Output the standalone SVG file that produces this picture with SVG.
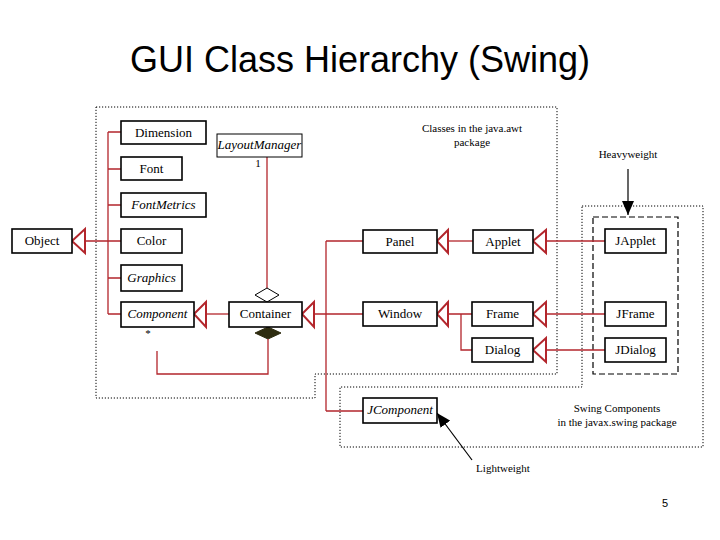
<svg xmlns="http://www.w3.org/2000/svg" width="720" height="540" viewBox="0 0 720 540">
<style>
.title{font-family:"Liberation Sans",Arial,sans-serif;font-size:36px;fill:#000}
.t{font-family:"Liberation Serif","Times New Roman",serif;font-size:13px;fill:#000;text-anchor:middle}
.i{font-style:italic}
.note{font-family:"Liberation Serif","Times New Roman",serif;font-size:11px;fill:#000;text-anchor:middle}
.box{fill:#fff;stroke:#000;stroke-width:1.6}
.thin{fill:#fff;stroke:#000;stroke-width:1}
.pkg{fill:none;stroke:#000;stroke-width:1;stroke-dasharray:1.2 1.8}
.dash{fill:none;stroke:#000;stroke-width:1.2;stroke-dasharray:6 3}
.r{fill:none;stroke:#b3262c;stroke-width:1.3}
.tri{fill:#fff;stroke:#b3262c;stroke-width:2}
.arr{fill:none;stroke:#000;stroke-width:1.2}
</style>
<defs>
<marker id="ah" viewBox="0 0 14 12" refX="14" refY="6" markerWidth="14" markerHeight="12" markerUnits="userSpaceOnUse" orient="auto">
<path d="M0,0 L14,6 L0,12z" fill="#000"/>
</marker>
</defs>
<rect width="720" height="540" fill="#fff"/>
<text class="title" x="360" y="72" text-anchor="middle">GUI Class Hierarchy (Swing)</text>

<g id="packages">
<path class="pkg" d="M96,107 H557 V374 H315 V398 H96 Z"/>
<path class="pkg" d="M582,206 H703 V447 H340 V387 H582 Z"/>
<rect class="dash" x="593" y="217" width="85" height="157"/>
<text class="note" x="472" y="132">Classes in the java.awt</text>
<text class="note" x="472" y="146">package</text>
<text class="note" x="617" y="412">Swing Components</text>
<text class="note" x="617" y="426">in the javax.swing package</text>
</g>

<g id="connectors">
<path class="r" d="M108,132 V314 M108,132 H121 M108,169 H121 M108,205 H121 M85,241 H121 M108,278 H121 M108,314 H121"/>
<polygon class="tri" points="72,241 85,229 85,253"/>
<path class="r" d="M206,314 H229"/>
<polygon class="tri" points="194,314 206,302 206,327"/>
<path class="r" d="M314,314 H326 M326,241 V411 M326,241 H363 M326,314 H363 M326,411 H363"/>
<polygon class="tri" points="302,314 314,302 314,327"/>
<path class="r" d="M448,241 H473"/>
<polygon class="tri" points="437,241 448,230 448,253"/>
<path class="r" d="M546,241 H605"/>
<polygon class="tri" points="533,241 546,230 546,253"/>
<path class="r" d="M448,314 H472 M461,314 V350 H472"/>
<polygon class="tri" points="437,314 448,302 448,326"/>
<path class="r" d="M546,314 H605"/>
<polygon class="tri" points="533,314 546,302 546,326"/>
<path class="r" d="M546,350 H605"/>
<polygon class="tri" points="533,350 546,338 546,362"/>
<path class="r" d="M267,157 V288"/>
<polygon points="267,288 279,295 267,302 255,295" fill="#fff" stroke="#000" stroke-width="1"/>
<polygon points="268,327 281,333 268,339 255,333" fill="#2e2c10" stroke="#2e2c10" stroke-width="1"/>
<path class="r" d="M268,339 V374 H157 V351" stroke-width="2"/>
<text class="note" x="148" y="337" font-size="10">*</text>
<text class="note" x="258" y="167" font-size="10">1</text>
<path class="arr" d="M628,169 V215" marker-end="url(#ah)"/>
<path class="arr" d="M472,460 L437,413" marker-end="url(#ah)"/>
<text class="note" x="628" y="158">Heavyweight</text>
<text class="note" x="503" y="472">Lightweight</text>
</g>

<g id="Dimension"><rect class="box" x="121" y="121" width="85" height="23"/><text class="t" x="163.5" y="137">Dimension</text></g>
<g id="Font"><rect class="box" x="121" y="157" width="61" height="23"/><text class="t" x="151.5" y="173">Font</text></g>
<g id="FontMetrics"><rect class="box" x="121" y="193" width="85" height="24"/><text class="t i" x="163.5" y="209">FontMetrics</text></g>
<g id="LayoutManager"><rect class="thin" x="217" y="134" width="85" height="23"/><text class="t i" x="259.5" y="149" font-size="11.5">LayoutManager</text></g>
<g id="Object"><rect class="box" x="12" y="229" width="60" height="24"/><text class="t" x="42" y="245">Object</text></g>
<g id="Color"><rect class="box" x="121" y="229" width="61" height="24"/><text class="t" x="151.5" y="245">Color</text></g>
<g id="Graphics"><rect class="box" x="121" y="265" width="61" height="26"/><text class="t i" x="151.5" y="282">Graphics</text></g>
<g id="Component"><rect class="box" x="121" y="302" width="73" height="25"/><text class="t i" x="157.5" y="318">Component</text></g>
<g id="Container"><rect class="box" x="229" y="302" width="73" height="25"/><text class="t" x="265.5" y="318">Container</text></g>
<g id="Panel"><rect class="box" x="363" y="230" width="74" height="23"/><text class="t" x="400" y="246">Panel</text></g>
<g id="Applet"><rect class="box" x="473" y="230" width="60" height="23"/><text class="t" x="503" y="246">Applet</text></g>
<g id="JApplet"><rect class="box" x="605" y="229" width="61" height="24"/><text class="t" x="635.5" y="245">JApplet</text></g>
<g id="Window"><rect class="box" x="363" y="302" width="74" height="24"/><text class="t" x="400" y="318">Window</text></g>
<g id="Frame"><rect class="box" x="472" y="302" width="61" height="24"/><text class="t" x="502.5" y="318">Frame</text></g>
<g id="Dialog"><rect class="box" x="472" y="338" width="61" height="24"/><text class="t" x="502.5" y="354">Dialog</text></g>
<g id="JFrame"><rect class="box" x="605" y="302" width="61" height="24"/><text class="t" x="635.5" y="318">JFrame</text></g>
<g id="JDialog"><rect class="box" x="605" y="338" width="61" height="24"/><text class="t" x="635.5" y="354">JDialog</text></g>
<g id="JComponent"><rect class="box" x="363" y="398" width="74" height="25"/><text class="t i" x="400" y="414">JComponent</text></g>

<text x="665" y="507" font-family="Liberation Sans,Arial,sans-serif" font-size="11" text-anchor="middle">5</text>
</svg>
